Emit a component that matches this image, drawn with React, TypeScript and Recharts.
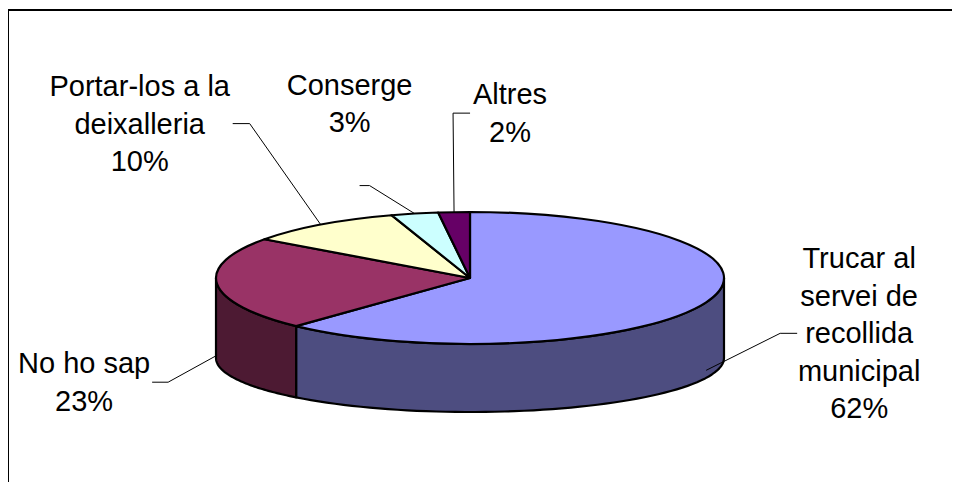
import React from 'react';
import { PieChart, Pie, Cell } from 'recharts';

// ---- data ----
const categories = [
  'Trucar al servei de recollida municipal',
  'No ho sap',
  'Portar-los a la deixalleria',
  'Conserge',
  'Altres',
];
const labelLines = [
  ['Trucar al', 'servei de', 'recollida', 'municipal'],
  ['No ho sap'],
  ['Portar-los a la', 'deixalleria'],
  ['Conserge'],
  ['Altres'],
];
const values = [62, 23, 10, 3, 2];

// ---- styles ----
const topColors = ['#9999FF', '#993366', '#FFFFCC', '#CCFFFF', '#660066'];
const sideColors = ['#4D4D80', '#4D1A33', '#80806A', '#6A8080', '#330033'];

// label layout: elbow offset from anchor, horizontal tail, text block centre offset from elbow
const labelLayout = [
  { elbow: [74, -37], tail: 17, text: [79, 0] },
  { elbow: [-49, 27], tail: -16, text: [-84, 0] },
  { elbow: [-71, -101], tail: -17, text: [-110, 0] },
  { elbow: [-45, -28], tail: -10, text: [-20, -82] },
  { elbow: [-1, -99], tail: 17, text: [57, 0] },
];

const data = categories.map((name, i) => ({ name, value: values[i] }));

const RAD = Math.PI / 180;
const TOP_RATIO = 66 / 254;
const BOT_RATIO = 54 / 254;
const DEPTH = 80;
const FONT = "'Liberation Sans', Arial, sans-serif";
const FONT_SIZE = 29;
const LINE_H = 37.5;

function Slice3D(props: any) {
  const { cx, cy, outerRadius: rx, startAngle, endAngle, fill, index } = props;
  const ryT = rx * TOP_RATIO;
  const ryB = rx * BOT_RATIO;
  const pT = (a: number) => [cx + rx * Math.cos(a * RAD), cy - ryT * Math.sin(a * RAD)];
  const pB = (a: number) => [cx + rx * Math.cos(a * RAD), cy + DEPTH - ryB * Math.sin(a * RAD)];

  const s = startAngle;
  const e = endAngle;
  const ps = pT(s);
  const pe = pT(e);
  const large = Math.abs(s - e) > 180 ? 1 : 0;
  const sweep = s > e ? 1 : 0;
  const topPath = `M${cx},${cy} L${ps[0]},${ps[1]} A${rx},${ryT} 0 ${large} ${sweep} ${pe[0]},${pe[1]} Z`;

  const lo = Math.min(s, e);
  const hi = Math.max(s, e);
  const walls: string[] = [];
  for (let k = -2; k <= 1; k++) {
    const i0 = Math.max(lo, -180 + 360 * k);
    const i1 = Math.min(hi, 360 * k);
    if (i1 - i0 > 0.01) {
      const N = 60;
      const pts: number[][] = [];
      for (let j = 0; j <= N; j++) pts.push(pT(i0 + ((i1 - i0) * j) / N));
      for (let j = N; j >= 0; j--) pts.push(pB(i0 + ((i1 - i0) * j) / N));
      walls.push('M' + pts.map((p) => `${p[0].toFixed(2)},${p[1].toFixed(2)}`).join(' L') + ' Z');
    }
  }
  return (
    <g>
      {walls.map((d, i) => (
        <path key={i} d={d} fill={sideColors[index]} stroke="#000" strokeWidth={2.2} strokeLinejoin="round" />
      ))}
      <path d={topPath} fill={fill} stroke="#000" strokeWidth={2.2} strokeLinejoin="round" />
    </g>
  );
}

function renderLabel(props: any) {
  const { cx, cy, midAngle, outerRadius: rx, index, percent } = props;
  const ryT = rx * TOP_RATIO;
  const ryB = rx * BOT_RATIO;
  const sn = Math.sin(midAngle * RAD);
  const cs = Math.cos(midAngle * RAD);
  const ax = cx + rx * cs;
  let ay = cy - ryT * sn;
  if (sn < 0) {
    const by = cy + DEPTH - ryB * sn;
    ay = ay + 0.9 * (by - ay);
  }
  const lay = labelLayout[index];
  const ex = ax + lay.elbow[0];
  const ey = ay + lay.elbow[1];
  const tx = ex + lay.text[0];
  const ty = ey + lay.text[1];
  const lines = [...labelLines[index], `${Math.round(percent * 100)}%`];
  const n = lines.length;
  return (
    <g key={`lbl-${index}`}>
      <polyline
        points={`${ax},${ay} ${ex},${ey} ${ex + lay.tail},${ey}`}
        fill="none"
        stroke="#000"
        strokeWidth={1}
      />
      <text x={tx} textAnchor="middle" fontFamily={FONT} fontSize={FONT_SIZE} fill="#000">
        {lines.map((l, i) => (
          <tspan key={i} x={tx} y={ty + (i - (n - 1) / 2) * LINE_H + 10}>
            {l}
          </tspan>
        ))}
      </text>
    </g>
  );
}

export default function App() {
  return (
    <div
      style={{
        position: 'relative',
        left: -1,
        top: 1,
        width: 952,
        height: 474,
        borderTop: '2px solid #000',
        borderLeft: '2px solid #000',
        overflow: 'hidden',
      }}
    >
      <PieChart width={950} height={472} margin={{ top: 0, right: 0, bottom: 0, left: 0 }}>
        <Pie
          data={data}
          dataKey="value"
          nameKey="name"
          cx={461}
          cy={267}
          outerRadius={254}
          startAngle={90}
          endAngle={-270}
          isAnimationActive={false}
          shape={Slice3D}
          inactiveShape={Slice3D}
          activeShape={Slice3D}
          label={renderLabel}
          labelLine={false}
          stroke="#000"
        >
          {data.map((d, i) => (
            <Cell key={d.name} fill={topColors[i]} />
          ))}
        </Pie>
      </PieChart>
    </div>
  );
}
